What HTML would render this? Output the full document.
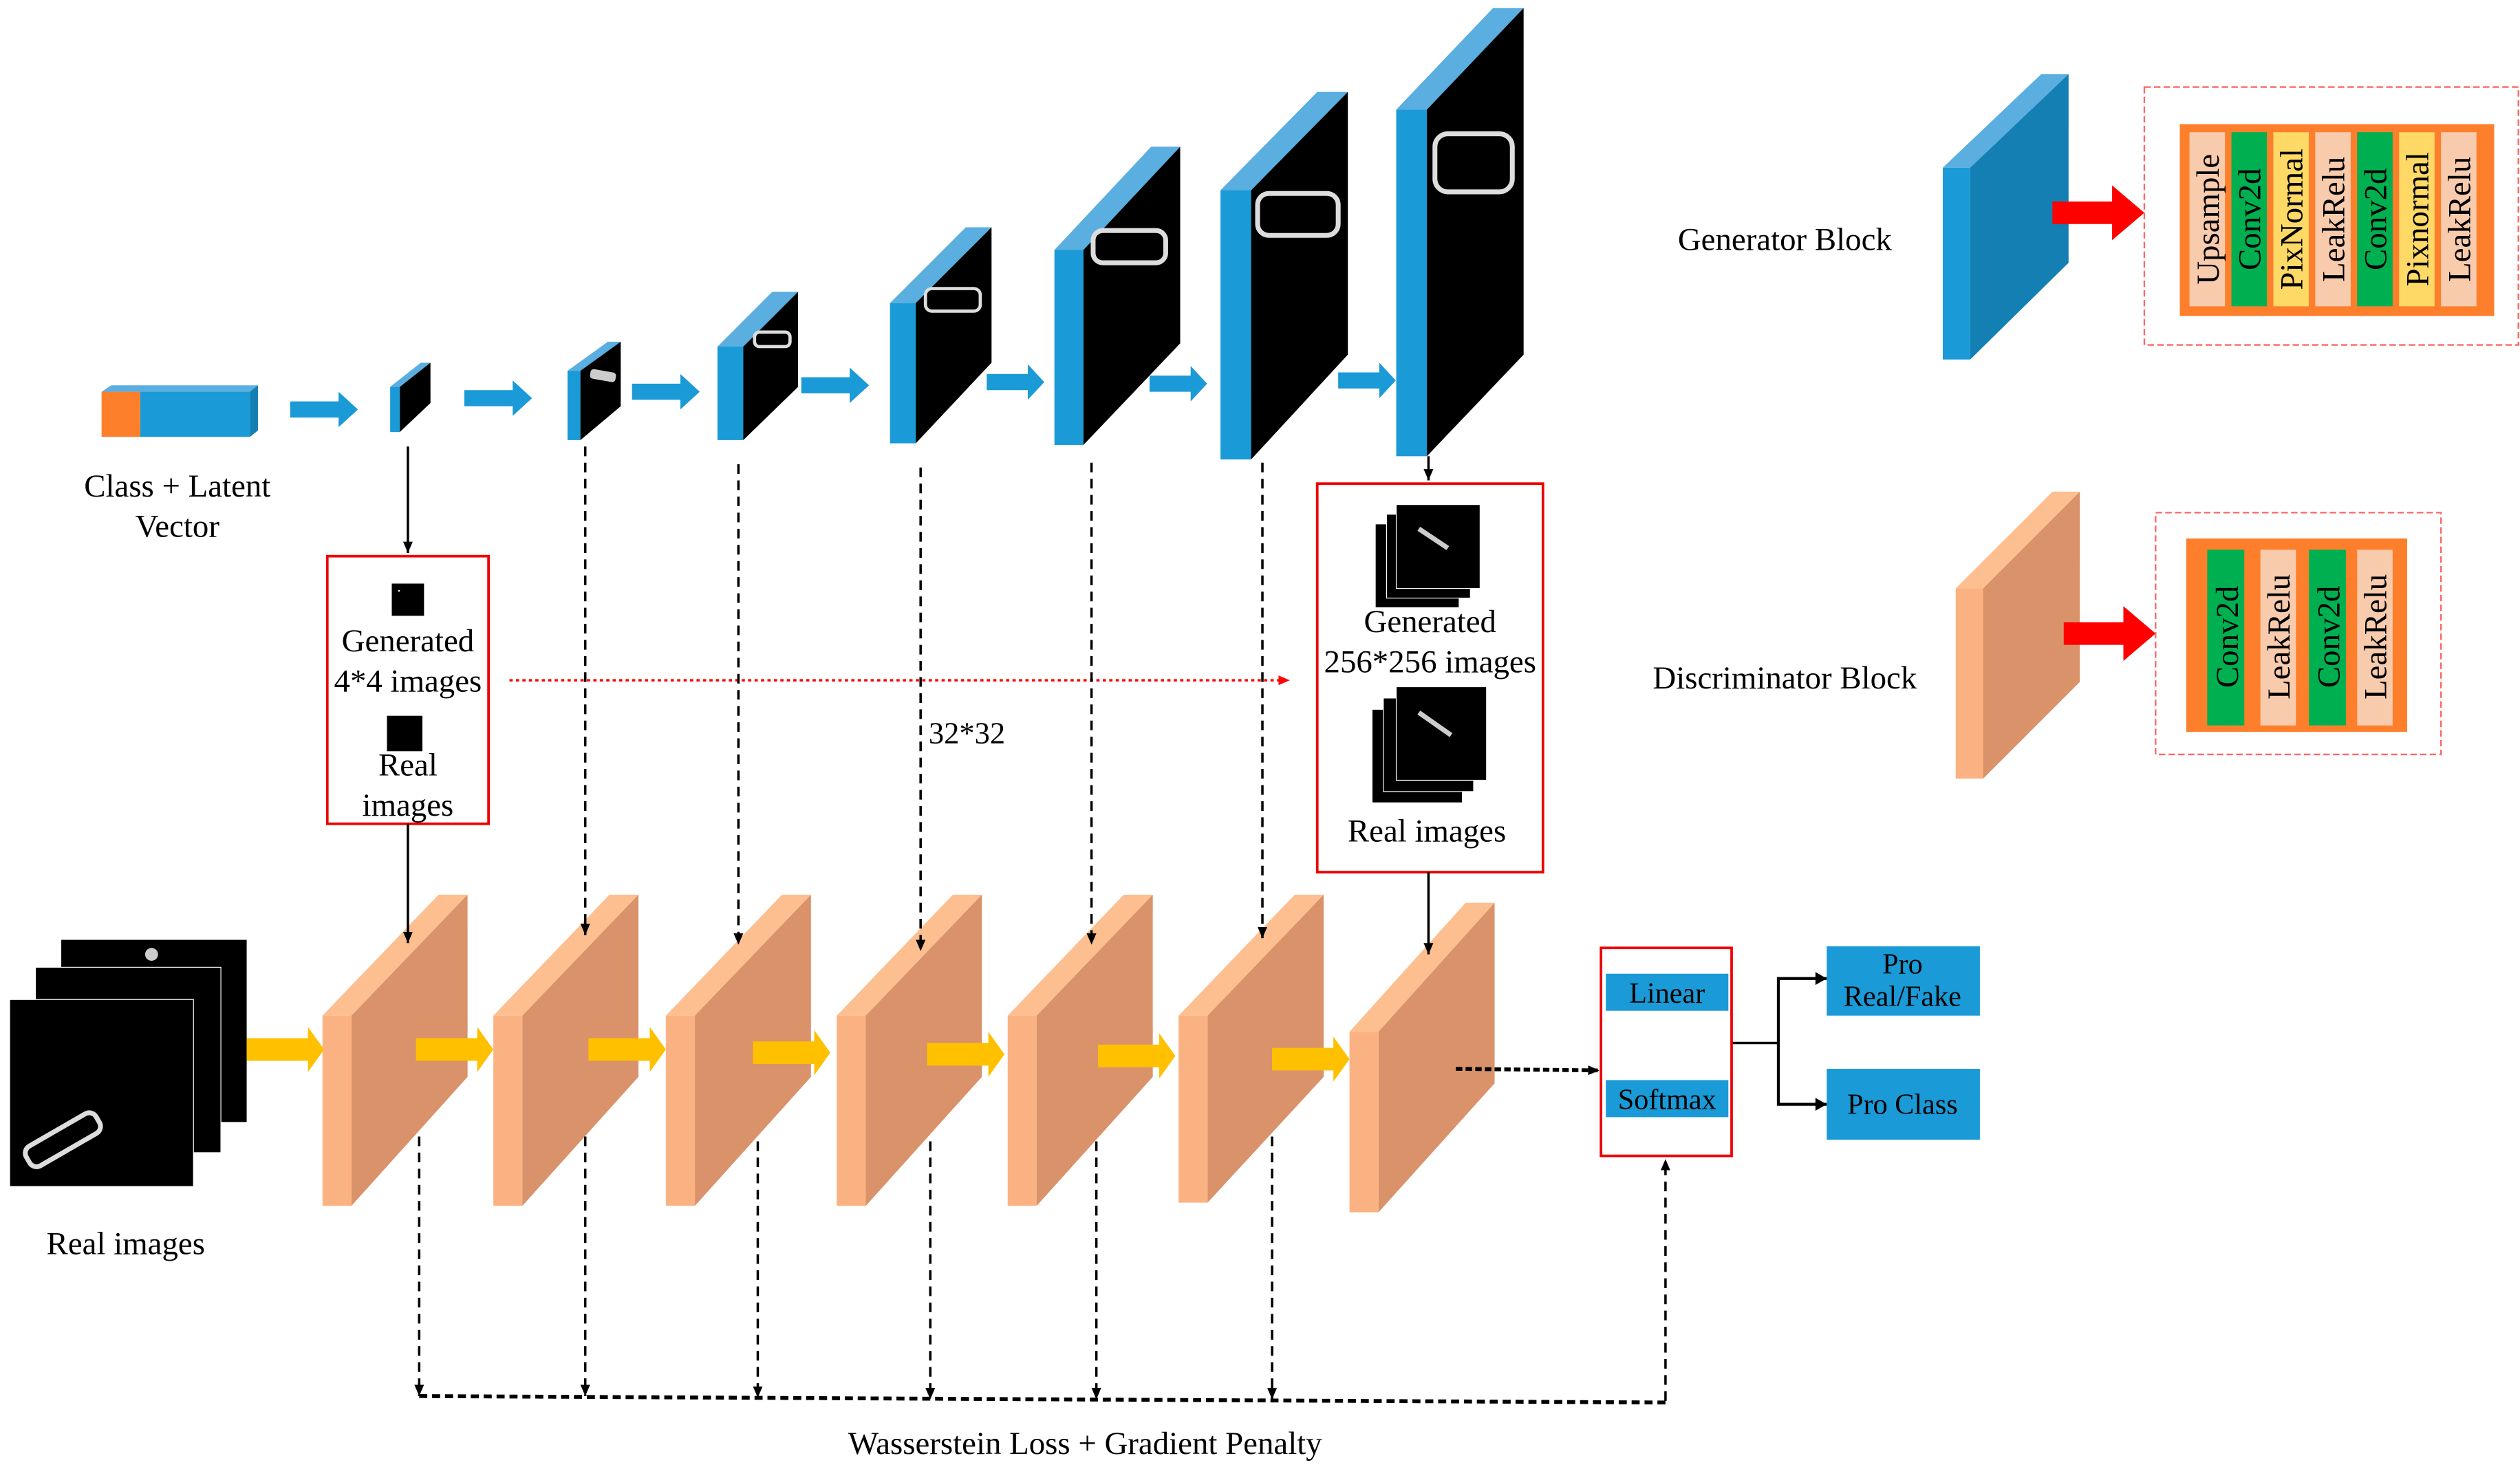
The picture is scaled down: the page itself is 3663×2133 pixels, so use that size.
<!DOCTYPE html>
<html><head><meta charset="utf-8"><style>
html,body{margin:0;padding:0;background:#fff}
svg{display:block}
text{font-family:"Liberation Serif",serif;fill:#000}
</style></head><body>
<svg width="3663" height="2133" viewBox="0 0 1563 910" preserveAspectRatio="none" xmlns="http://www.w3.org/2000/svg">
<defs>
<marker id="ab" markerWidth="8" markerHeight="8" refX="7" refY="4" orient="auto" markerUnits="userSpaceOnUse"><path d="M0,1 L7,4 L0,7 Z" fill="#000"/></marker>
<marker id="ar" markerWidth="8" markerHeight="8" refX="7" refY="4" orient="auto" markerUnits="userSpaceOnUse"><path d="M0,1 L7,4 L0,7 Z" fill="#f00"/></marker>
<g id="ba"><path d="M0,0 h30 v-6 l12,11 l-12,11 v-6 h-30z" fill="#1a9ad6"/></g>
<g id="ya"><path d="M0,-7 h38 v-7 l10,14 l-10,14 v-7 h-38z" fill="#ffc000"/></g>
</defs>

<!-- input vector -->
<polygon points="63,243 69,239 160,239 155,243" fill="#5aaee0"/>
<rect x="63" y="243" width="24" height="28" fill="#fd7f2c"/>
<rect x="87" y="243" width="68" height="28" fill="#1a9ad6"/>
<polygon points="155,243 160,239 160,267 155,271" fill="#137fb3"/>
<text x="110" y="308" font-size="20" text-anchor="middle">Class + Latent</text>
<text x="110" y="333" font-size="20" text-anchor="middle">Vector</text>

<!-- blue arrows -->
<use href="#ba" x="180" y="249"/>
<use href="#ba" x="288" y="242"/>
<use href="#ba" x="392" y="238"/>
<use href="#ba" x="497" y="234"/>
<g transform="translate(612,232) scale(0.85,1)"><use href="#ba"/></g>
<g transform="translate(713,233) scale(0.85,1)"><use href="#ba"/></g>
<g transform="translate(830,231) scale(0.85,1)"><use href="#ba"/></g>

<!-- generator blocks -->
<g id="gens">
<!-- x0,x1,yt,yb,xr,yrt,yrb -->
<polygon points="242,240 261,225 267,225 248,240" fill="#5aaee0"/><rect x="242" y="240" width="6" height="28" fill="#1a9ad6"/><polygon points="248,240 267,225 267,250 248,268" fill="#000"/>
<polygon points="352,230 377,212 385,212 360,230" fill="#5aaee0"/><rect x="352" y="230" width="8" height="43" fill="#1a9ad6"/><polygon points="360,230 385,212 385,252 360,273" fill="#000"/><rect x="366" y="230" width="16" height="6" rx="2" fill="#ccc" transform="rotate(10 374 233)"/>
<polygon points="445,215 479,181 495,181 461,215" fill="#5aaee0"/><rect x="445" y="215" width="16" height="58" fill="#1a9ad6"/><polygon points="461,215 495,181 495,240 461,273" fill="#000"/><rect x="468" y="206" width="22" height="9" rx="3" fill="none" stroke="#ddd" stroke-width="2"/>
<polygon points="552,188 599,141 615,141 568,188" fill="#5aaee0"/><rect x="552" y="188" width="16" height="87" fill="#1a9ad6"/><polygon points="568,188 615,141 615,225 568,275" fill="#000"/><rect x="574" y="179" width="34" height="14" rx="4" fill="none" stroke="#ddd" stroke-width="2"/>
<polygon points="654,155 714,91 732,91 672,155" fill="#5aaee0"/><rect x="654" y="155" width="18" height="121" fill="#1a9ad6"/><polygon points="672,155 732,91 732,213 672,276" fill="#000"/><rect x="678" y="143" width="45" height="20" rx="6" fill="none" stroke="#ddd" stroke-width="3"/>
<polygon points="757,118 817,57 836,57 776,118" fill="#5aaee0"/><rect x="757" y="118" width="19" height="167" fill="#1a9ad6"/><polygon points="776,118 836,57 836,220 776,285" fill="#000"/><rect x="780" y="120" width="50" height="26" rx="7" fill="none" stroke="#ddd" stroke-width="3"/>
<polygon points="866,68 926,5 945,5 885,68" fill="#5aaee0"/><rect x="866" y="68" width="19" height="215" fill="#1a9ad6"/><polygon points="885,68 945,5 945,220 885,283" fill="#000"/><rect x="890" y="83" width="48" height="36" rx="8" fill="none" stroke="#ddd" stroke-width="3"/>
</g>

<!-- Real images stack -->
<rect x="38" y="583" width="115" height="113" fill="#000"/>
<rect x="22" y="600" width="115" height="115" fill="#000" stroke="#fff" stroke-width="0.5"/>
<rect x="6" y="620" width="114" height="116" fill="#000" stroke="#fff" stroke-width="0.5"/>
<rect x="14" y="700" width="50" height="14" rx="5" fill="none" stroke="#ddd" stroke-width="3" transform="rotate(-30 39 707)"/>
<circle cx="94" cy="592" r="4" fill="#ccc"/>
<text x="78" y="778" font-size="20" text-anchor="middle">Real images</text>

<!-- discriminator blocks -->
<g>
<polygon points="200,630 272,555 290,555 218,630" fill="#fdbf90"/><rect x="200" y="630" width="18" height="118" fill="#fbb282"/><polygon points="218,630 290,555 290,668 218,748" fill="#d9926a"/>
<polygon points="306,630 378,555 396,555 324,630" fill="#fdbf90"/><rect x="306" y="630" width="18" height="118" fill="#fbb282"/><polygon points="324,630 396,555 396,668 324,748" fill="#d9926a"/>
<polygon points="413,630 485,555 503,555 431,630" fill="#fdbf90"/><rect x="413" y="630" width="18" height="118" fill="#fbb282"/><polygon points="431,630 503,555 503,668 431,748" fill="#d9926a"/>
<polygon points="519,630 591,555 609,555 537,630" fill="#fdbf90"/><rect x="519" y="630" width="18" height="118" fill="#fbb282"/><polygon points="537,630 609,555 609,668 537,748" fill="#d9926a"/>
<polygon points="625,630 697,555 715,555 643,630" fill="#fdbf90"/><rect x="625" y="630" width="18" height="118" fill="#fbb282"/><polygon points="643,630 715,555 715,668 643,748" fill="#d9926a"/>
<polygon points="731,630 803,555 821,555 749,630" fill="#fdbf90"/><rect x="731" y="630" width="18" height="116" fill="#fbb282"/><polygon points="749,630 821,555 821,668 749,746" fill="#d9926a"/>
<polygon points="837,640 909,560 927,560 855,640" fill="#fdbf90"/><rect x="837" y="640" width="18" height="112" fill="#fbb282"/><polygon points="855,640 927,560 927,672 855,752" fill="#d9926a"/>
</g>
<!-- yellow arrows -->
<use href="#ya" x="153" y="651"/>
<use href="#ya" x="258" y="651"/>
<use href="#ya" x="365" y="651"/>
<use href="#ya" x="467" y="653"/>
<use href="#ya" x="575" y="654"/>
<use href="#ya" x="681" y="655"/>
<use href="#ya" x="789" y="657"/>

<!-- red box 1 -->
<rect x="203" y="345" width="100" height="166" fill="none" stroke="#e00" stroke-width="1.6"/>
<rect x="243" y="362" width="20" height="20" fill="#000"/><rect x="247" y="366" width="1" height="1" fill="#fff"/>
<rect x="240" y="444" width="22" height="22" fill="#000"/>
<text x="253" y="404" font-size="20" text-anchor="middle">Generated</text>
<text x="253" y="429" font-size="20" text-anchor="middle">4*4 images</text>
<text x="253" y="481" font-size="20" text-anchor="middle">Real</text>
<text x="253" y="506" font-size="20" text-anchor="middle">images</text>

<!-- red box 2 -->
<rect x="817" y="300" width="140" height="241" fill="none" stroke="#e00" stroke-width="1.6"/>
<rect x="853" y="325" width="52" height="52" fill="#000" stroke="#fff" stroke-width="0.5"/>
<rect x="860" y="319" width="52" height="52" fill="#000" stroke="#fff" stroke-width="0.5"/>
<rect x="866" y="313" width="52" height="52" fill="#000" stroke="#fff" stroke-width="0.5"/>
<line x1="880" y1="328" x2="898" y2="340" stroke="#ccc" stroke-width="3"/>
<rect x="851" y="440" width="56" height="58" fill="#000" stroke="#fff" stroke-width="0.5"/>
<rect x="858" y="433" width="56" height="58" fill="#000" stroke="#fff" stroke-width="0.5"/>
<rect x="866" y="426" width="56" height="58" fill="#000" stroke="#fff" stroke-width="0.5"/>
<line x1="880" y1="442" x2="900" y2="456" stroke="#ccc" stroke-width="3"/>
<text x="887" y="392" font-size="20" text-anchor="middle">Generated</text>
<text x="887" y="417" font-size="20" text-anchor="middle">256*256 images</text>
<text x="885" y="522" font-size="20" text-anchor="middle">Real images</text>

<!-- red dotted -->
<line x1="316" y1="422" x2="800" y2="422" stroke="#f00" stroke-width="1.5" stroke-dasharray="2,2" marker-end="url(#ar)"/>
<text x="576" y="461" font-size="19">32*32</text>

<!-- connectors -->
<g stroke="#000" stroke-width="1.5" fill="none">
<line x1="253" y1="277" x2="253" y2="343" marker-end="url(#ab)"/>
<line x1="253" y1="511" x2="253" y2="585" marker-end="url(#ab)"/>
<line x1="886" y1="283" x2="886" y2="298" marker-end="url(#ab)"/>
<line x1="886" y1="541" x2="886" y2="592" marker-end="url(#ab)"/>
<g stroke-dasharray="6,4">
<line x1="363" y1="277" x2="363" y2="580" marker-end="url(#ab)"/>
<line x1="458" y1="288" x2="458" y2="586" marker-end="url(#ab)"/>
<line x1="571" y1="290" x2="571" y2="590" marker-end="url(#ab)"/>
<line x1="677" y1="287" x2="677" y2="586" marker-end="url(#ab)"/>
<line x1="783" y1="287" x2="783" y2="582" marker-end="url(#ab)"/>
<line x1="260" y1="705" x2="260" y2="866" marker-end="url(#ab)"/>
<line x1="363" y1="705" x2="363" y2="866" marker-end="url(#ab)"/>
<line x1="470" y1="708" x2="470" y2="867" marker-end="url(#ab)"/>
<line x1="577" y1="708" x2="577" y2="868" marker-end="url(#ab)"/>
<line x1="680" y1="708" x2="680" y2="868" marker-end="url(#ab)"/>
<line x1="789" y1="705" x2="789" y2="868" marker-end="url(#ab)"/>
<line x1="1033" y1="869" x2="1033" y2="719" marker-end="url(#ab)"/>
</g>
<polyline points="260,866 1033,870" stroke-width="2.4" stroke-dasharray="5,3"/>
<line x1="903" y1="663" x2="992" y2="664" stroke-width="2.4" stroke-dasharray="4,2" marker-end="url(#ab)"/>
<polyline points="1074,647 1103,647"/>
<polyline points="1133,607 1103,607 1103,685 1133,685" stroke-width="1.8"/>
</g>
<path d="M1126,603 l7,4 l-7,4z M1126,681 l7,4 l-7,4z" fill="#000"/>

<!-- red box 3 -->
<rect x="993" y="588" width="81" height="129" fill="none" stroke="#e00" stroke-width="1.6"/>
<rect x="996" y="604" width="76" height="23" fill="#1a9ad6"/>
<rect x="996" y="670" width="76" height="23" fill="#1a9ad6"/>
<text x="1034" y="622" font-size="18" text-anchor="middle">Linear</text>
<text x="1034" y="688" font-size="18" text-anchor="middle">Softmax</text>
<rect x="1133" y="587" width="95" height="43" fill="#1a9ad6"/>
<rect x="1133" y="663" width="95" height="44" fill="#1a9ad6"/>
<text x="1180" y="604" font-size="18" text-anchor="middle">Pro</text>
<text x="1180" y="624" font-size="18" text-anchor="middle">Real/Fake</text>
<text x="1180" y="691" font-size="18" text-anchor="middle">Pro Class</text>

<text x="673" y="902" font-size="20" text-anchor="middle">Wasserstein Loss + Gradient Penalty</text>

<!-- legend generator -->
<text x="1107" y="155" font-size="20" text-anchor="middle">Generator Block</text>
<polygon points="1205,104 1266,46 1283,46 1222,104" fill="#5aaee0"/>
<rect x="1205" y="104" width="17" height="119" fill="#1a9ad6"/>
<polygon points="1222,104 1283,46 1283,163 1222,223" fill="#137fb3"/>
<path d="M1273,125 h37 v-10 l20,17 l-20,17 v-10 h-37z" fill="#f00"/>
<rect x="1330" y="54" width="232" height="160" fill="none" stroke="#f66" stroke-width="1" stroke-dasharray="4,2"/>
<rect x="1352" y="77" width="195" height="119" fill="#fd7f2c"/>
<g font-size="20">
<rect x="1358" y="82" width="22" height="108" fill="#f8cbad"/>
<rect x="1384" y="82" width="22" height="108" fill="#00b050"/>
<rect x="1410" y="82" width="22" height="108" fill="#ffd966"/>
<rect x="1436" y="82" width="22" height="108" fill="#f8cbad"/>
<rect x="1462" y="82" width="22" height="108" fill="#00b050"/>
<rect x="1488" y="82" width="22" height="108" fill="#ffd966"/>
<rect x="1514" y="82" width="22" height="108" fill="#f8cbad"/>
<text transform="translate(1376,136) rotate(-90)" text-anchor="middle" font-size="20">Upsample</text>
<text transform="translate(1402,136) rotate(-90)" text-anchor="middle" font-size="20">Conv2d</text>
<text transform="translate(1428,136) rotate(-90)" text-anchor="middle" font-size="20">PixNormal</text>
<text transform="translate(1454,136) rotate(-90)" text-anchor="middle" font-size="20">LeakRelu</text>
<text transform="translate(1480,136) rotate(-90)" text-anchor="middle" font-size="20">Conv2d</text>
<text transform="translate(1506,136) rotate(-90)" text-anchor="middle" font-size="20">Pixnormal</text>
<text transform="translate(1532,136) rotate(-90)" text-anchor="middle" font-size="20">LeakRelu</text>
</g>

<!-- legend discriminator -->
<text x="1107" y="427" font-size="20" text-anchor="middle">Discriminator Block</text>
<polygon points="1213,365 1273,305 1290,305 1230,365" fill="#fdbf90"/>
<rect x="1213" y="365" width="17" height="118" fill="#fbb282"/>
<polygon points="1230,365 1290,305 1290,423 1230,483" fill="#d9926a"/>
<path d="M1280,386 h37 v-10 l20,17 l-20,17 v-10 h-37z" fill="#f00"/>
<rect x="1337" y="318" width="177" height="150" fill="none" stroke="#f66" stroke-width="1" stroke-dasharray="4,2"/>
<rect x="1356" y="334" width="137" height="120" fill="#fd7f2c"/>
<rect x="1369" y="341" width="23" height="109" fill="#00b050"/>
<rect x="1402" y="341" width="22" height="109" fill="#f8cbad"/>
<rect x="1432" y="341" width="23" height="109" fill="#00b050"/>
<rect x="1462" y="341" width="22" height="109" fill="#f8cbad"/>
<text transform="translate(1388,395) rotate(-90)" text-anchor="middle" font-size="20">Conv2d</text>
<text transform="translate(1420,395) rotate(-90)" text-anchor="middle" font-size="20">LeakRelu</text>
<text transform="translate(1451,395) rotate(-90)" text-anchor="middle" font-size="20">Conv2d</text>
<text transform="translate(1480,395) rotate(-90)" text-anchor="middle" font-size="20">LeakRelu</text>
</svg>
</body></html>
